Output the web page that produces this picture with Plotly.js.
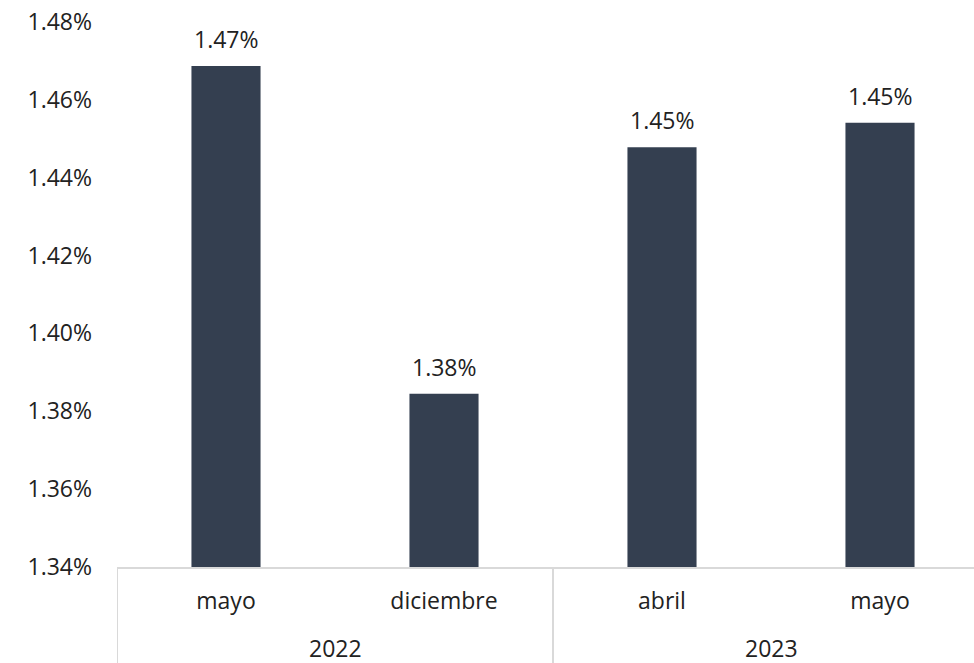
<!DOCTYPE html>
<html>
<head>
<meta charset="utf-8">
<script src="https://cdn.plot.ly/plotly-3.0.1.min.js"></script>
<style>html,body{margin:0;padding:0;background:#fff;}#chart{width:974px;height:663px;}</style>
</head>
<body>
<div id="chart"></div>
<script>
const years = ["2022", "2022", "2023", "2023"];
const months = ["mayo", "diciembre", "abril", "mayo"];
const values = [1.4687, 1.3845, 1.4478, 1.4541];
const yTicks = [1.34, 1.36, 1.38, 1.40, 1.42, 1.44, 1.46, 1.48];

const FONT = "'Open Sans', sans-serif";
const FS = 23;
const GRID = "#d9d9d9";
const idx = values.map((_, i) => i);

// year groups (derived from the years array)
const groups = [];
years.forEach((y, i) => {
  const g = groups.find(g => g.year === y);
  if (g) g.last = i; else groups.push({year: y, first: i, last: i});
});

const trace = {
  type: "bar",
  x: idx,
  y: values,
  marker: {color: "#343f50"},
  hoverinfo: "skip"
};
const valueLabels = values.map((v, i) => ({
  x: i, y: v, xref: "x", yref: "y",
  text: v.toFixed(2) + "%",
  showarrow: false, yanchor: "middle", xanchor: "center", yshift: 27,
  font: {family: FONT, size: FS, color: "#222"}
}));
const yearLabels = groups.map(g => ({
  x: (g.first + g.last) / 2, y: 0, xref: "x", yref: "paper",
  text: g.year, showarrow: false, yanchor: "middle", xanchor: "center", yshift: -81,
  font: {family: FONT, size: FS, color: "#222"}
}));
const dividers = [];
groups.forEach(g => {
  [g.first - 0.5, g.last + 0.5].forEach(b => {
    if (!dividers.some(d => d.x0 === b)) {
      dividers.push({type: "line", xref: "x", yref: "paper", x0: b, x1: b, y0: 0, y1: -0.2,
        line: {color: GRID, width: 2}});
    }
  });
});

const plotW = 974 - 117;
const layout = {
  width: 974, height: 663,
  margin: {l: 117, r: 0, t: 22, b: 96},
  paper_bgcolor: "#fff", plot_bgcolor: "#fff",
  bargap: 0.683,
  showlegend: false,
  font: {family: FONT, size: FS, color: "#222"},
  annotations: valueLabels.concat(yearLabels),
  shapes: dividers,
  xaxis: {
    range: [-0.5, -0.5 + plotW / 218],
    tickvals: idx, ticktext: months,
    showline: true, linecolor: GRID, linewidth: 2,
    showgrid: false, zeroline: false,
    ticks: "outside", ticklen: 12, tickcolor: "rgba(0,0,0,0)",
    tickfont: {family: FONT, size: FS, color: "#222"}
  },
  yaxis: {
    range: [1.34, 1.48],
    tickvals: yTicks,
    ticktext: yTicks.map(v => v.toFixed(2) + "%"),
    showgrid: false, zeroline: false, showline: false,
    ticks: "", ticklabelstandoff: 24,
    tickfont: {family: FONT, size: FS, color: "#222"}
  }
};
Plotly.newPlot("chart", [trace], layout, {displayModeBar: false, staticPlot: true});
</script>
</body>
</html>
